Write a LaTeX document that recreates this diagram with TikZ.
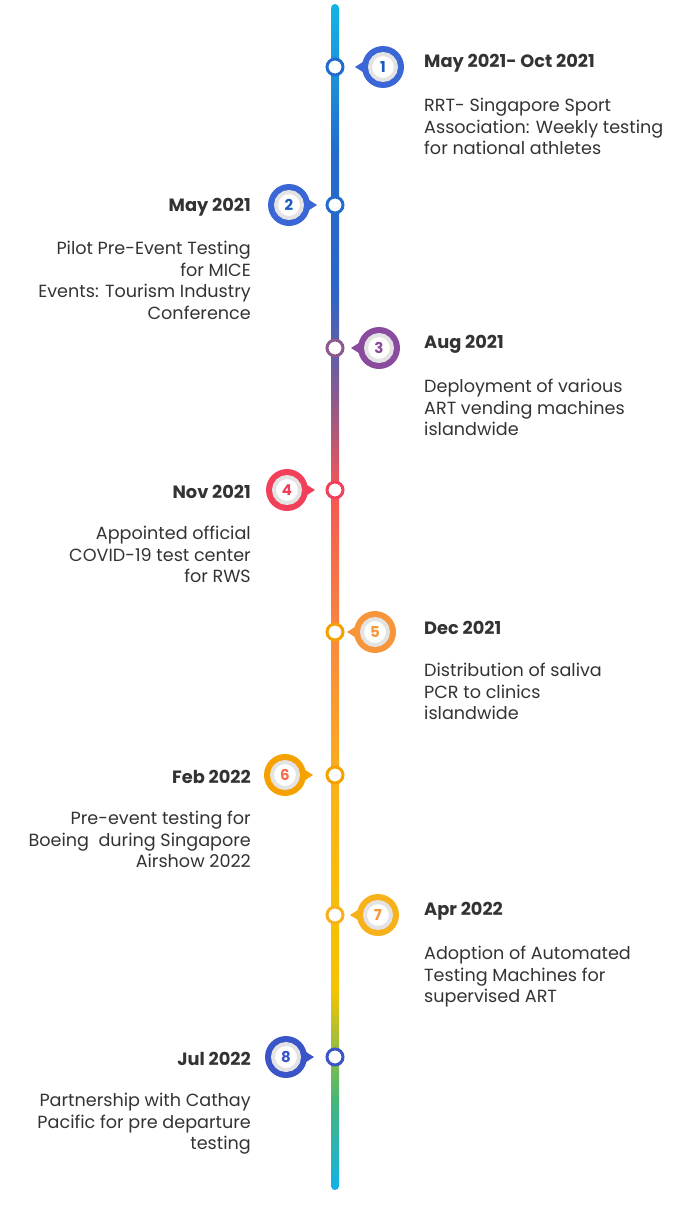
\documentclass[tikz,border=0pt]{standalone}
\usepackage{fontspec}
\setmainfont{Poppins}
\usepackage{xcolor}
\definecolor{lnA}{RGB}{20,178,228}
\definecolor{lnB}{RGB}{35,108,205}
\definecolor{lnC}{RGB}{45,100,200}
\definecolor{lnD}{RGB}{140,90,140}
\definecolor{lnE}{RGB}{245,85,85}
\definecolor{lnF}{RGB}{250,140,60}
\definecolor{lnG}{RGB}{250,180,20}
\definecolor{lnH}{RGB}{245,196,0}
\definecolor{lnI}{RGB}{70,182,120}
\definecolor{bBlue}{RGB}{58,102,214}
\definecolor{bPurple}{RGB}{138,74,158}
\definecolor{bRed}{RGB}{242,64,90}
\definecolor{bOrange}{RGB}{247,149,58}
\definecolor{bAmber}{RGB}{245,161,0}
\definecolor{bYellow}{RGB}{247,178,27}
\definecolor{bNavy}{RGB}{58,85,200}
\definecolor{numBlue}{RGB}{30,90,190}
\definecolor{numCoral}{RGB}{245,110,80}
\definecolor{txt}{RGB}{51,51,51}
\begin{document}
\begin{tikzpicture}[
    x=1pt, y=-1pt,
    badge/.style={circle, fill=white, draw=gray!22, line width=4pt, minimum size=26pt, inner sep=0pt, font=\fontsize{15}{15}\selectfont\bfseries},
    dot/.style={circle, fill=white, draw=#1, line width=3pt, minimum size=16pt, inner sep=0pt},
    title/.style={font=\fontsize{17.8}{20}\selectfont\bfseries, text=txt, inner sep=0pt},
    body/.style={font=\fontsize{17.6}{21.6}\selectfont, text=txt, inner sep=0pt}
]
    \useasboundingbox (0,0) rectangle (700,1218);
    % Timeline bar
    \shade[top color=lnA, bottom color=lnB] (331,8) rectangle (339,150);
    \shade[top color=lnB, bottom color=lnC] (331,150) rectangle (339,290);
    \shade[top color=lnC, bottom color=lnD] (331,290) rectangle (339,400);
    \shade[top color=lnD, bottom color=lnE] (331,400) rectangle (339,490);
    \shade[top color=lnE, bottom color=lnF] (331,490) rectangle (339,650);
    \shade[top color=lnF, bottom color=lnG] (331,650) rectangle (339,800);
    \shade[top color=lnG, bottom color=lnH] (331,800) rectangle (339,990);
    \shade[top color=lnH, bottom color=lnI] (331,990) rectangle (339,1100);
    \shade[top color=lnI, bottom color=lnA] (331,1100) rectangle (339,1186);
    \fill[lnA] (335,8) circle (4);
    \fill[lnA] (335,1186) circle (4);
    % Milestones
    \foreach \n/\y/\s/\bx/\bc/\nc/\dc/\ttl/\txt in {
        1/67/1/383/bBlue/numBlue/lnB/{May 2021- Oct 2021}/{RRT- Singapore Sport\\Association: Weekly testing\\for national athletes},
        2/205/-1/289/bBlue/numBlue/lnB/{May 2021}/{Pilot Pre-Event Testing\\for MICE\\Events: Tourism Industry\\Conference},
        3/348/1/379/bPurple/bPurple/lnD/{Aug 2021}/{Deployment of various\\ART vending machines\\islandwide},
        4/490/-1/287/bRed/bRed/bRed/{Nov 2021}/{Appointed official\\COVID-19 test center\\for RWS},
        5/632/1/375/bOrange/bOrange/bAmber/{Dec 2021}/{Distribution of saliva\\PCR to clinics\\islandwide},
        6/775/-1/285/bAmber/numCoral/bAmber/{Feb 2022}/{Pre-event testing for\\Boeing\ \ during Singapore\\Airshow 2022},
        7/915/1/378/bYellow/bOrange/bYellow/{Apr 2022}/{Adoption of Automated\\Testing Machines for\\supervised ART},
        8/1057/-1/286/bNavy/bNavy/bNavy/{Jul 2022}/{Partnership with Cathay\\Pacific for pre departure\\testing}}
    {
        \pgfmathsetmacro{\tip}{\bx-\s*28}
        \pgfmathsetmacro{\base}{\bx-\s*17}
        \fill[\bc] (\tip,\y) -- (\base,\y-7) -- (\base,\y+7) -- cycle;
        \fill[\bc] (\bx,\y) circle (21);
        \node[badge, text=\nc] (b\n) at (\bx,\y) {\n};
        \node[dot=\dc] (d\n) at (335,\y) {};
        \ifnum\s=1
            \node[title, anchor=west] (t\n) at (424,\y-4) {\ttl};
            \node[body, anchor=north west, align=left] (x\n) at (424,\y+31) {\txt};
        \else
            \node[title, anchor=east] (t\n) at (251,\y+2) {\ttl};
            \node[body, anchor=north east, align=right] (x\n) at (251,\y+36) {\txt};
        \fi
    }
\end{tikzpicture}
\end{document}
